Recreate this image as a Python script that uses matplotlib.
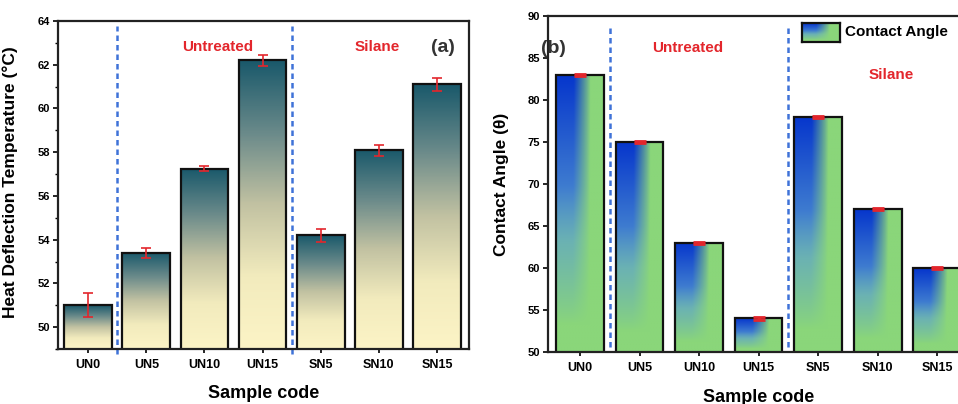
import numpy as np
import matplotlib
matplotlib.use("Agg")
import matplotlib.pyplot as plt
from matplotlib.colors import LinearSegmentedColormap, to_rgb

plt.rcParams['font.family'] = ['Liberation Sans', 'DejaVu Sans']
plt.rcParams['font.weight'] = 'bold'
plt.rcParams['axes.labelweight'] = 'bold'

# data
samples = ['UN0', 'UN5', 'UN10', 'UN15', 'SN5', 'SN10', 'SN15']
hdt = [51.0, 53.4, 57.25, 62.2, 54.2, 58.1, 61.1]
hdt_err = [0.55, 0.22, 0.12, 0.25, 0.3, 0.25, 0.3]
angle = [83, 75, 63, 54, 78, 67, 60]
angle_err = [0.15, 0.1, 0.15, 0.2, 0.1, 0.15, 0.15]

RED = '#e3262c'
DASH = '#3f72d8'

# gradient for panel (a): pale yellow bottom -> dark teal top
cmap_a = LinearSegmentedColormap.from_list(
    'hdt', [(0, '#fcf4c6'), (0.25, '#f2ebbd'), (0.5, '#c2c2a2'),
            (0.75, '#6a8a8a'), (1, '#1a596b')])


def grad_a(n=200):
    v = np.linspace(1, 0, n)[:, None] * np.ones((1, 10))
    return cmap_a(v)


def grad_b(nv=200, nu=80):
    # blue wedge from the top-left corner fading into green
    u = np.linspace(0, 1, nu)[None, :]
    v = np.linspace(0, 1, nv)[:, None]
    c = 0.12 + 0.12 * v
    half = 0.6 - 0.15 * v
    a = np.clip((half - np.abs(u - c)) / 0.35, 0, 1)
    fade = np.clip((0.9 - v) / 0.5, 0, 1)
    b = (a * fade) ** 0.85
    dark = np.array(to_rgb('#0636cc'))
    mid = np.array(to_rgb('#5a9ed2'))
    green = np.array(to_rgb('#8ad67a'))
    s = np.clip(v / 0.6, 0, 1)[..., None]
    blue = dark * (1 - s) + mid * s
    img = green + (blue - green) * b[..., None]
    return np.clip(img, 0, 1)


fig = plt.figure(figsize=(9.58, 4.04), dpi=100)
ax1 = fig.add_axes([0.0605, 0.136, 0.429, 0.812])
ax2 = fig.add_axes([0.572, 0.129, 0.4405, 0.831])

x = np.arange(len(samples))
bw = 0.82

# panel (a)
base_a = 49
for xi, val in zip(x, hdt):
    ax1.imshow(grad_a(), extent=(xi - bw / 2, xi + bw / 2, base_a, val),
               aspect='auto', zorder=1, interpolation='bilinear')
ax1.bar(x, hdt, width=bw, facecolor='none', edgecolor='#111111', linewidth=1.6, zorder=2)
ax1.errorbar(x, hdt, yerr=hdt_err, fmt='none', ecolor=RED, elinewidth=1.2,
             capsize=3.5, capthick=1.2, zorder=3)
for xv in [0.5, 3.5]:
    ax1.axvline(xv, ymin=-0.015, ymax=0.985, color=DASH, lw=1.8,
                linestyle=(0, (2.2, 1.6)), clip_on=False, zorder=0)
ax1.set_xlim(-0.52, 6.55)
ax1.set_ylim(49, 64)
ax1.set_yticks(np.arange(50, 65, 2))
ax1.set_yticks(np.arange(49, 65, 1), minor=True)
ax1.text(2.22, 62.8, 'Untreated', color=RED, fontsize=11, ha='center', va='center')
ax1.text(4.98, 62.8, 'Silane', color=RED, fontsize=11, ha='center', va='center')
ax1.text(6.1, 62.8, '(a)', color='#333333', fontsize=14, ha='center', va='center')
ax1.set_ylabel('Heat Deflection Temperature (°C)', fontsize=12.5)

# panel (b)
bw2 = 0.8
base_b = 50
for xi, val in zip(x, angle):
    ax2.imshow(grad_b(), extent=(xi - bw2 / 2, xi + bw2 / 2, base_b, val),
               aspect='auto', zorder=1, interpolation='bilinear')
ax2.bar(x, angle, width=bw2, facecolor='none', edgecolor='#111111', linewidth=1.6, zorder=2)
ax2.errorbar(x, angle, yerr=angle_err, fmt='none', ecolor=RED, elinewidth=2.5,
             capsize=4, capthick=2, zorder=3)
for xv in [0.5, 3.5]:
    ax2.plot([xv, xv], [50.6, 89.0], color=DASH, lw=1.8,
             linestyle=(0, (2.2, 1.6)), zorder=0)
ax2.set_xlim(-0.54, 6.55)
ax2.set_ylim(50, 90)
ax2.set_yticks(np.arange(50, 91, 5))
ax2.text(-0.45, 86.2, '(b)', color='#333333', fontsize=14, ha='center', va='center')
ax2.text(1.8, 86.2, 'Untreated', color=RED, fontsize=11, ha='center', va='center')
ax2.text(5.23, 83.0, 'Silane', color=RED, fontsize=11, ha='center', va='center')
ax2.set_ylabel('Contact Angle (θ)', fontsize=12.5)

# legend of panel (b)
lax = fig.add_axes([0.837, 0.896, 0.0397, 0.047])
lax.imshow(grad_b(40, 60), aspect='auto', extent=(0, 1, 0, 1))
lax.set_xticks([])
lax.set_yticks([])
for s in lax.spines.values():
    s.set_linewidth(1.6)
    s.set_color('#111111')
fig.text(0.882, 0.92, 'Contact Angle', fontsize=11, ha='left', va='center')

for ax in (ax1, ax2):
    ax.set_xticks(x)
    ax.set_xticklabels(samples, fontsize=9)
    ax.set_xlabel('Sample code', fontsize=13)
    ax.xaxis.set_label_coords(0.5, -0.11)
    ax.tick_params(axis='y', labelsize=8, length=3.5, width=1.2, pad=2)
    ax.tick_params(axis='y', which='minor', length=2, width=1)
    ax.tick_params(axis='x', length=3, width=1.2, pad=4)
    for s in ax.spines.values():
        s.set_linewidth(1.6)
        s.set_color('#222222')
ax1.yaxis.set_label_coords(-0.097, 0.51)
ax2.yaxis.set_label_coords(-0.092, 0.5)

fig.savefig('out.png', dpi=100)
